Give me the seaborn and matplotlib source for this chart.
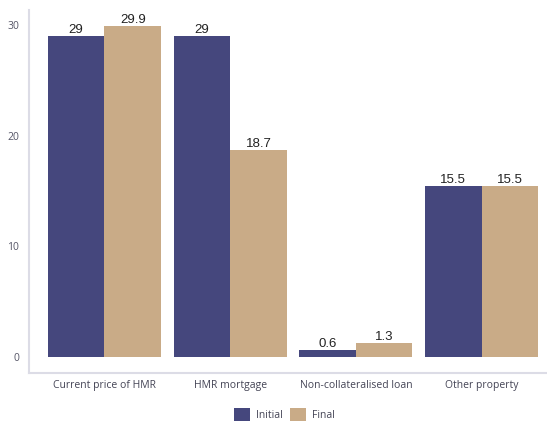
import matplotlib
matplotlib.use("Agg")
import matplotlib.pyplot as plt
import seaborn as sns
import pandas as pd

categories = ["Current price of HMR", "HMR mortgage", "Non-collateralised loan", "Other property"]
initial = [29, 29, 0.6, 15.5]
final = [29.9, 18.7, 1.3, 15.5]
series = ["Initial", "Final"]
colors = ["#45477d", "#c9ab87"]

df = pd.DataFrame({
    "category": categories * 2,
    "value": initial + final,
    "series": [series[0]] * len(categories) + [series[1]] * len(categories),
})

sns.set_theme(style="white")
plt.rcParams["font.family"] = ["Open Sans", "DejaVu Sans"]

fig = plt.figure(figsize=(5.47, 4.21), dpi=100)
ax = fig.add_axes([0.053, 0.114, 0.947, 0.862])

sns.barplot(data=df, x="category", y="value", hue="series", palette=colors,
            width=0.9, saturation=1, ax=ax, errorbar=None, linewidth=0,
            legend=True)

for cont in ax.containers:
    ax.bar_label(cont, labels=[f"{v:g}" for v in cont.datavalues], padding=0,
                 fontsize=9.5, color="#222222", family="Liberation Sans")

ax.set_xlim(-0.6, 3.52)
ax.set_ylim(-1.45, 31.36)
ax.set_yticks([0, 10, 20, 30])
ax.set_xlabel("")
ax.set_ylabel("")
ax.tick_params(axis="y", labelsize=7.5, colors="#555566", length=0, pad=7)
ax.tick_params(axis="x", labelsize=7.5, colors="#444455", length=0, pad=5)
for s in ["top", "right"]:
    ax.spines[s].set_visible(False)
for s in ["left", "bottom"]:
    ax.spines[s].set_color("#dcdce6")
    ax.spines[s].set_linewidth(1.5)

handles, labels = ax.get_legend_handles_labels()
ax.get_legend().remove()
fig.legend(handles, labels, loc="center", bbox_to_anchor=(0.52, 0.016), ncol=2,
           frameon=False, fontsize=7.5, handlelength=1.55, handleheight=1.5,
           columnspacing=0.7, handletextpad=0.6, labelcolor="#444455",
           borderpad=0, borderaxespad=0)

fig.savefig("out.png", dpi=100)
